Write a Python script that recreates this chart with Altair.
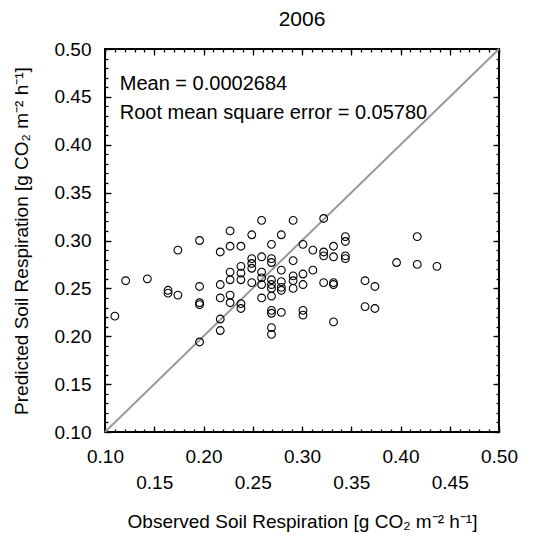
import altair as alt
import pandas as pd

# Observed (x) and predicted (y) soil respiration values
observed = [
    0.110,
    0.121,
    0.143,
    0.164, 0.164,
    0.174, 0.174,
    0.196, 0.196, 0.196, 0.196, 0.196,
    0.217, 0.217, 0.217, 0.217, 0.217,
    0.227, 0.227, 0.227, 0.227, 0.227, 0.227,
    0.238, 0.238, 0.238, 0.238, 0.238, 0.238,
    0.249, 0.249, 0.249, 0.249, 0.249,
    0.259, 0.259, 0.259, 0.259, 0.259, 0.259,
    0.269, 0.269, 0.269, 0.269, 0.269, 0.269, 0.269, 0.269, 0.269, 0.269, 0.269,
    0.279, 0.279, 0.279, 0.279, 0.279, 0.279,
    0.291, 0.291, 0.291, 0.291, 0.291,
    0.301, 0.301, 0.301, 0.301, 0.301,
    0.311, 0.311,
    0.322, 0.322, 0.322, 0.322,
    0.332, 0.332, 0.332, 0.332, 0.332,
    0.344, 0.344, 0.344, 0.344,
    0.364, 0.364,
    0.374, 0.374,
    0.396,
    0.417, 0.417,
    0.437,
]
predicted = [
    0.221,
    0.258,
    0.260,
    0.248, 0.245,
    0.243, 0.290,
    0.300, 0.252, 0.235, 0.233, 0.194,
    0.288, 0.254, 0.240, 0.218, 0.206,
    0.310, 0.294, 0.267, 0.259, 0.243, 0.235,
    0.294, 0.273, 0.266, 0.259, 0.234, 0.229,
    0.306, 0.281, 0.276, 0.271, 0.256,
    0.321, 0.283, 0.267, 0.261, 0.254, 0.240,
    0.296, 0.281, 0.277, 0.259, 0.254, 0.250, 0.242, 0.227, 0.224, 0.209, 0.202,
    0.306, 0.269, 0.257, 0.251, 0.248, 0.225,
    0.321, 0.279, 0.263, 0.258, 0.250,
    0.296, 0.265, 0.254, 0.227, 0.222,
    0.290, 0.269,
    0.323, 0.288, 0.284, 0.256,
    0.294, 0.283, 0.256, 0.254, 0.215,
    0.304, 0.299, 0.284, 0.281,
    0.258, 0.231,
    0.252, 0.229,
    0.277,
    0.304, 0.275,
    0.273,
]

one_to_one = [0.10, 0.50]
x_labels_row1 = [0.10, 0.20, 0.30, 0.40, 0.50]
x_labels_row2 = [0.15, 0.25, 0.35, 0.45]
major_ticks = [0.10, 0.15, 0.20, 0.25, 0.30, 0.35, 0.40, 0.45, 0.50]
minor_ticks = [round(0.10 + 0.01 * i, 2) for i in range(41)]

note_x = [0.115, 0.115]
note_y = [0.4635, 0.4333]
note_text = ["Mean = 0.0002684", "Root mean square error = 0.05780"]

W, H = 394, 383
FONT = "Liberation Sans"
LABEL_SIZE = 19

pts = pd.DataFrame({"obs": observed, "pred": predicted})
line_df = pd.DataFrame({"obs": one_to_one, "pred": one_to_one})
notes = pd.DataFrame({"obs": note_x, "pred": note_y, "label": note_text})

xs = alt.Scale(domain=[0.1, 0.5], nice=False, zero=False)
ys = alt.Scale(domain=[0.1, 0.5], nice=False, zero=False)


def label_axis(orient, values, pad, title=None, title_pad=0):
    kw = dict(orient=orient, values=values, format=".2f", ticks=False, tickSize=0,
              domain=False, grid=False, labelPadding=pad, labelFont=FONT,
              labelFontSize=LABEL_SIZE, labelColor="black", labelFlush=False)
    if title is not None:
        kw.update(title=title, titleFont=FONT, titleFontSize=19, titleFontWeight="normal",
                  titleColor="black", titlePadding=title_pad)
    else:
        kw.update(title=None)
    return alt.Axis(**kw)


def tick_axis(orient, offset, values, size):
    return alt.Axis(orient=orient, offset=offset, values=values, labels=False,
                    domain=False, grid=False, tickSize=size, tickColor="black",
                    tickWidth=1.3, title=None)


ytitle = "Predicted Soil Respiration [g CO\u2082 m\u207b\u00b2 h\u207b\u00b9]"
xtitle = "Observed Soil Respiration [g CO\u2082 m\u207b\u00b2 h\u207b\u00b9]"

line = alt.Chart(line_df).mark_line(color="#999999", strokeWidth=2).encode(
    x=alt.X("obs:Q", scale=xs, axis=label_axis("bottom", x_labels_row1, 15)),
    y=alt.Y("pred:Q", scale=ys, axis=label_axis("left", major_ticks, 14, ytitle, 23)),
)

points = alt.Chart(pts).mark_point(shape="circle", filled=False, color="black",
                                   size=60, strokeWidth=1.1, opacity=1).encode(
    x=alt.X("obs:Q", scale=xs, axis=label_axis("bottom", x_labels_row2, 41, xtitle, 20)),
    y=alt.Y("pred:Q", scale=ys, axis=tick_axis("right", -W, major_ticks, 6)),
)

text = alt.Chart(notes).mark_text(align="left", baseline="middle", font=FONT,
                                  fontSize=20, color="black").encode(
    x=alt.X("obs:Q", scale=xs, axis=tick_axis("top", -H, major_ticks, 6)),
    y=alt.Y("pred:Q", scale=ys, axis=tick_axis("right", -W, minor_ticks, 3)),
    text="label:N",
)

ghost1 = alt.Chart(line_df).mark_point(opacity=0).encode(
    x=alt.X("obs:Q", scale=xs, axis=tick_axis("top", -H, minor_ticks, 3)),
    y=alt.Y("pred:Q", scale=ys, axis=tick_axis("left", -W, major_ticks, 6)),
)

ghost2 = alt.Chart(line_df).mark_point(opacity=0).encode(
    x=alt.X("obs:Q", scale=xs, axis=tick_axis("bottom", -H, major_ticks, 6)),
    y=alt.Y("pred:Q", scale=ys, axis=tick_axis("left", -W, minor_ticks, 3)),
)

ghost3 = alt.Chart(line_df).mark_point(opacity=0).encode(
    x=alt.X("obs:Q", scale=xs, axis=tick_axis("bottom", -H, minor_ticks, 3)),
    y=alt.Y("pred:Q", scale=ys, axis=None),
)

chart = alt.layer(line, points, text, ghost1, ghost2, ghost3).resolve_axis(
    x="independent", y="independent"
).properties(
    width=W,
    height=H,
    title=alt.TitleParams("2006", font=FONT, fontSize=21, fontWeight="normal",
                          color="black", offset=10),
    autosize=alt.AutoSizeParams(type="none"),
    padding={"left": 105, "top": 49, "right": 45, "bottom": 110},
    background="white",
).configure_view(stroke="black", strokeWidth=2)

chart.save("out.html", embed_options={"renderer": "svg", "actions": False})
